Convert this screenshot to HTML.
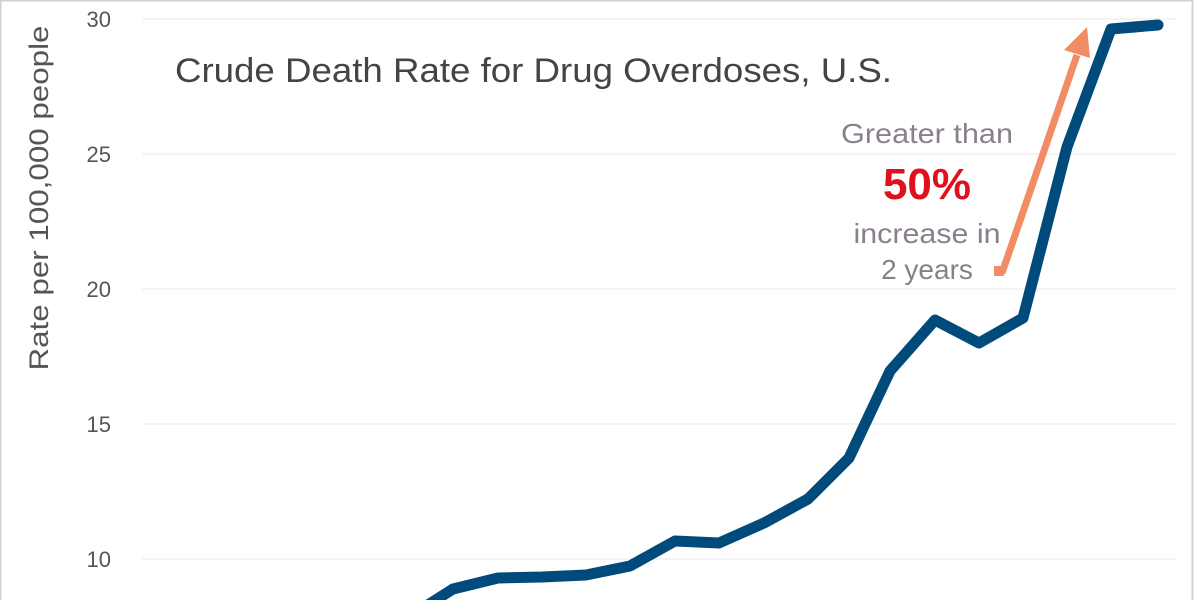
<!DOCTYPE html>
<html><head><style>
body{margin:0;background:#fff;}
svg{display:block;}
text{font-family:"Liberation Sans",sans-serif;}
</style></head><body>
<svg width="1200" height="600" viewBox="0 0 1200 600">
<rect x="0.5" y="0.5" width="1192" height="620" fill="#fff" stroke="#d0d0d0" stroke-width="2"/>
<g stroke="#e8e8e8" stroke-width="1">
<line x1="142" y1="19" x2="1176" y2="19"/>
<line x1="142" y1="154" x2="1176" y2="154"/>
<line x1="142" y1="289" x2="1176" y2="289"/>
<line x1="142" y1="424" x2="1176" y2="424"/>
<line x1="142" y1="559" x2="1176" y2="559"/>
</g>
<g font-size="22" fill="#555" text-anchor="end">
<text x="111" y="27">30</text>
<text x="111" y="162">25</text>
<text x="111" y="297">20</text>
<text x="111" y="432">15</text>
<text x="111" y="567">10</text>
</g>
<text transform="translate(48,198) rotate(-90)" font-size="27" fill="#555" text-anchor="middle" textLength="345" lengthAdjust="spacingAndGlyphs">Rate per 100,000 people</text>
<text x="175" y="82" font-size="34" fill="#444" textLength="717" lengthAdjust="spacingAndGlyphs">Crude Death Rate for Drug Overdoses, U.S.</text>
<polyline fill="none" stroke="#004b7c" stroke-width="11" stroke-linejoin="round" stroke-linecap="round"
points="420,610 453,589 498,578 542,577 586,575 630,566 675,541 719,543 764,523 808,499 849,458 890,371 935,320 979,343 1023,318 1067,147 1111,29 1158,25"/>
<g>
<line x1="1002" y1="273" x2="1077" y2="55" stroke="#f28c64" stroke-width="7"/>
<polygon points="1087,27 1064,50 1090,58" fill="#f28c64"/>
<rect x="994" y="266" width="10" height="10" fill="#f28c64"/>
</g>
<g text-anchor="middle" fill="#8a7f8c" font-size="28">
<text x="927" y="143" textLength="172" lengthAdjust="spacingAndGlyphs">Greater than</text>
<text x="927" y="199" font-size="44" font-weight="bold" fill="#e0101e">50%</text>
<text x="927" y="243" textLength="147" lengthAdjust="spacingAndGlyphs">increase in</text>
<text x="927" y="279">2 years</text>
</g>
</svg>
</body></html>
